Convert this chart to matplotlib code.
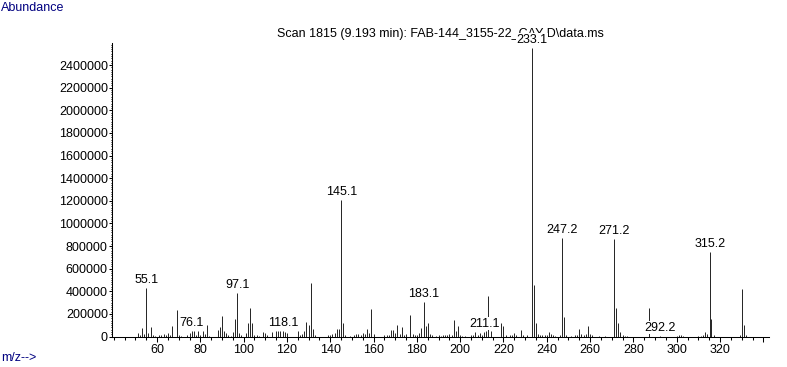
"""ChemStation-style mass spectrum (Scan 1815) redrawn with matplotlib."""
import matplotlib
matplotlib.use("Agg")
import matplotlib.pyplot as plt
from matplotlib import font_manager
from matplotlib.ticker import MultipleLocator

FONT_SIZE = 9
for candidate, size in (("Liberation Sans Narrow", 10.5), ("Liberation Sans", 9)):
    if any(f.name == candidate for f in font_manager.fontManager.ttflist):
        plt.rcParams["font.family"] = [candidate, "DejaVu Sans"]
        FONT_SIZE = size
        break

# --- data (m/z, abundance) -------------------------------------------------
mz = [
    51, 52, 53, 54, 55.1, 56, 57, 58, 59, 61, 62, 63, 64, 65, 66, 67, 69, 70, 71,
    74, 75, 76.1, 77, 78, 79, 80, 81, 82, 83, 84, 88, 89, 90, 91, 92, 93, 94, 95,
    96, 97.1, 98, 99, 101, 102, 103, 104, 105, 106, 107, 109, 110, 111, 113, 115,
    116, 117, 118.1, 119, 120, 125, 126, 127, 128, 129, 130, 131, 132, 133, 139,
    140, 141, 142, 143, 144, 145.1, 146, 147, 149, 151, 152, 153, 154, 155, 156,
    157, 158, 159, 160, 165, 166, 167, 168, 169, 170, 171, 172, 173, 174, 175,
    177, 178, 179, 180, 181, 182, 183.1, 184, 185, 186, 187, 189, 190, 191, 192,
    193, 194, 195, 196, 197, 198, 199, 200, 201, 202, 205, 206, 207, 208, 209,
    210, 211.1, 212, 213, 214, 219, 220, 221, 223, 224, 225, 226, 228, 229, 231,
    233.1, 234, 235, 236, 237, 238, 239, 240, 241, 242, 243, 244, 246, 247.2, 248,
    249, 251, 253, 254, 255, 256, 257, 258, 259, 260, 261, 264, 267, 271.2, 272,
    273, 274, 275, 276, 277, 287, 292.2, 300, 301, 302, 303, 310, 311, 312, 313,
    314, 315.2, 316, 317, 329, 330, 331, 332,
]
abundance = [
    27000, 12000, 77000, 21000, 430000, 27000, 85000, 15000, 8000, 10000, 15000,
    20000, 12000, 32000, 15000, 94000, 230000, 10000, 5000,
    15000, 30000, 50000, 50000, 10000, 50000, 15000, 47000, 25000, 103000, 8000,
    56000, 85000, 183000, 50000, 30000, 15000, 8000, 44000,
    153000, 386000, 32000, 10000, 32000, 121000, 253000, 115000, 15000, 10000,
    8000, 44000, 27000, 10000, 44000, 50000,
    50000, 50000, 50000, 40000, 30000, 50000, 15000, 25000, 50000, 130000,
    100000, 474000, 68000, 10000, 10000,
    15000, 20000, 30000, 68000, 68000, 1210000, 121000, 10000, 8000, 15000,
    20000, 20000, 15000, 32000, 20000,
    62000, 32000, 245000, 21000, 15000, 10000, 15000, 59000, 59000, 30000,
    103000, 25000, 85000, 15000, 20000,
    192000, 20000, 10000, 15000, 30000, 74000, 306000, 91000, 121000, 20000,
    15000, 8000, 10000, 8000, 10000,
    15000, 15000, 20000, 15000, 147000, 50000, 94000, 15000, 8000, 5000, 15000,
    10000, 38000, 15000, 32000,
    10000, 41000, 50000, 360000, 50000, 121000, 94000, 15000, 10000, 15000,
    29000, 15000, 59000, 10000, 15000,
    2550000, 451000, 115000, 20000, 15000, 10000, 15000, 10000, 41000, 25000,
    10000, 5000, 15000, 871000, 174000,
    15000, 8000, 10000, 15000, 68000, 25000, 15000, 20000, 94000, 25000, 10000,
    5000, 8000, 862000, 256000,
    115000, 41000, 10000, 5000, 8000, 256000, 5000, 5000, 10000, 15000, 8000,
    5000, 8000, 10000, 41000,
    25000, 747000, 156000, 15000, 15000, 421000, 100000, 10000,
]
labelled = [55.1, 76.1, 97.1, 118.1, 145.1, 183.1, 211.1, 233.1, 247.2,
            271.2, 292.2, 315.2]

x_ticks = list(range(60, 341, 20))
x_tick_labels = [str(v) for v in x_ticks[:-1]] + [""]
y_ticks = list(range(0, 2400001, 200000))

NAVY = "#000080"

fig = plt.figure(figsize=(7.87, 3.67), dpi=100)
ax = fig.add_axes([0.1423, 0.0831, 0.8348, 0.7997])

# one pixel wide sticks, like the instrument printout
ax.vlines(mz, 0, abundance, colors="black", linewidth=0.6, zorder=2)

height = dict(zip(mz, abundance))
for m in labelled:
    ax.annotate(f"{m:.1f}", xy=(m, height[m]), xytext=(0, 1.5),
                textcoords="offset points", ha="center", va="bottom",
                fontsize=FONT_SIZE, zorder=5, annotation_clip=False,
                bbox=dict(boxstyle="square,pad=0.05", fc="white", ec="none"))

ax.set_xlim(39.2, 342.6)
ax.set_ylim(0, 2595000)

for side in ("top", "right"):
    ax.spines[side].set_visible(False)
for side in ("left", "bottom"):
    ax.spines[side].set_linewidth(0.75)

ax.set_xticks(x_ticks)
ax.set_xticklabels(x_tick_labels)
ax.xaxis.set_minor_locator(MultipleLocator(5))
ax.set_yticks(y_ticks)
ax.set_yticklabels([str(v) for v in y_ticks])
ax.yaxis.set_minor_locator(MultipleLocator(20000))

ax.tick_params(axis="x", which="major", length=3.6, width=0.75, pad=2,
               labelsize=FONT_SIZE)
ax.tick_params(axis="x", which="minor", length=1.8, width=0.75)
ax.tick_params(axis="y", which="major", length=2.2, width=0.75, pad=0.8,
               labelsize=FONT_SIZE)
ax.tick_params(axis="y", which="minor", length=1.0, width=0.75)

# title sits under the 233.1 label, as in the original printout
ax.text(0.5, 1.031, r"Scan 1815 (9.193 min): FAB-144_3155-22_CAY D\data.ms",
        transform=ax.transAxes, ha="center", va="center",
        fontsize=FONT_SIZE, zorder=1)

fig.text(0.001, 1 - 8 / 367, "Abundance", color=NAVY, ha="left",
         va="center", fontsize=FONT_SIZE)
fig.text(0.001, 1 - 358 / 367, "m/z-->", color=NAVY, ha="left",
         va="center", fontsize=FONT_SIZE)

fig.savefig("out.png", dpi=100)
